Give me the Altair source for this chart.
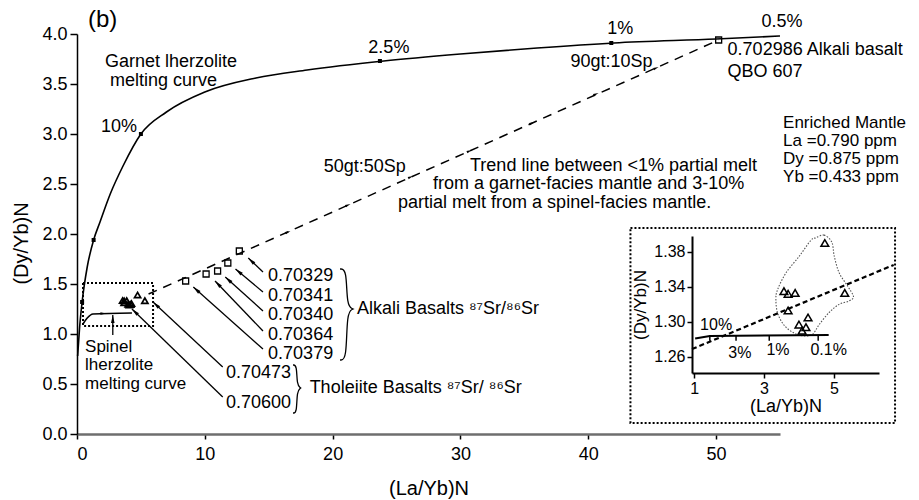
import math
import altair as alt
import pandas as pd

FONT = "Liberation Sans"

# ---------------- main panel: (La/Yb)N vs (Dy/Yb)N ----------------
garnet_x = [0.05, 0.2, 0.4, 0.8, 1.3, 1.8, 2.6, 3.6, 5.0, 7.0, 10.0, 14.0, 18.0, 24.0, 30.0, 36.0, 42.0, 50.0, 55.0]
garnet_y = [0.78, 1.06, 1.32, 1.67, 1.94, 2.12, 2.40, 2.68, 3.00, 3.22, 3.42, 3.56, 3.64, 3.73, 3.80, 3.86, 3.91, 3.95, 3.98]
garnet_mark_x = [0.4, 1.3, 5.0, 23.7, 41.8]
garnet_mark_y = [1.32, 1.94, 3.00, 3.73, 3.91]

trend_x = [5.6, 50.2]
trend_y = [1.40, 3.94]
trend_mark_x = [16.7, 21.4, 26.3, 30.9, 35.8, 40.8, 45.5]
trend_mark_y = [2.03, 2.30, 2.58, 2.84, 3.12, 3.41, 3.67]

spinel_x = [0.47, 0.8, 1.25, 4.3]
spinel_y = [1.10, 1.16, 1.20, 1.21]

alkali_x = [8.5, 10.1, 11.0, 11.8, 12.7]
alkali_y = [1.53, 1.60, 1.63, 1.71, 1.83]
qbo_x = [50.2]
qbo_y = [3.94]

thol_x = [3.57, 3.69, 3.89, 3.69, 4.26, 4.00, 4.20, 4.09, 4.74, 5.31]
thol_y = [1.335, 1.332, 1.333, 1.313, 1.305, 1.297, 1.294, 1.290, 1.390, 1.333]

alkali_sr = ["0.70329", "0.70341", "0.70340", "0.70364", "0.70379"]
alkali_sr_y = [1.58, 1.38, 1.19, 0.99, 0.80]
thol_sr = ["0.70473", "0.70600"]
thol_sr_y = [0.61, 0.31]

# arrows: tail -> head
arrow_tx = [14.55, 14.55, 14.55, 14.55, 14.55, 11.4, 11.4, 2.8]
arrow_ty = [1.62, 1.42, 1.23, 1.03, 0.85, 0.67, 0.37, 0.99]
arrow_hx = [13.4, 12.4, 11.6, 10.8, 9.1, 5.95, 4.3, 2.8]
arrow_hy = [1.76, 1.65, 1.57, 1.53, 1.47, 1.32, 1.25, 1.19]

# ---------------- inset panel ----------------
in_hull_x = [4.49, 4.72, 4.94, 5.01, 5.15, 5.39, 5.56, 5.44, 5.15, 4.87, 4.58, 4.39, 4.15, 3.87, 3.58, 3.39, 3.34, 3.39, 3.63, 4.01, 4.34]
in_hull_y = [1.396, 1.399, 1.391, 1.375, 1.356, 1.341, 1.329, 1.324, 1.320, 1.311, 1.297, 1.286, 1.284, 1.287, 1.296, 1.310, 1.326, 1.337, 1.356, 1.375, 1.393]
in_trend_x = [0.94, 6.71]
in_trend_y = [1.269, 1.365]
in_spinel_x = [1.03, 1.45, 4.85]
in_spinel_y = [1.281, 1.284, 1.285]
in_tick_x = [1.45, 2.2, 3.15, 4.55]
in_melt_text = ["10%", "3%", "1%", "0.1%"]
in_melt_x = [1.63, 2.31, 3.40, 4.85]
in_melt_y = [1.297, 1.265, 1.268, 1.268]

# pixel size of one data unit in the main panel
W, H = 703, 400
SX = W / 55.0
SY = H / 4.0


def heading(tx, ty, hx, hy):
    dx = (hx - tx) * SX
    dy = -(hy - ty) * SY
    return math.degrees(math.atan2(dx, -dy)) % 360


ARROW = "M0,0L0.45,2L-0.45,2Z"

main_x_scale = alt.Scale(domain=[0, 55], nice=False, zero=False)
main_y_scale = alt.Scale(domain=[0, 4], nice=False, zero=False)
main_x_axis = alt.Axis(
    title="(La/Yb)N", values=[0, 10, 20, 30, 40, 50], format="d", grid=False,
    domainColor="#6e6e6e", domainWidth=2.5, tickColor="black", tickSize=5, tickWidth=1.5,
    labelFont=FONT, labelFontSize=18, labelColor="black", labelPadding=6,
    titleFont=FONT, titleFontSize=20, titleFontWeight="normal", titleColor="black", titlePadding=15,
)
main_y_axis = alt.Axis(
    title="(Dy/Yb)N", values=[0, 0.5, 1, 1.5, 2, 2.5, 3, 3.5, 4], format=".1f", grid=False,
    domainColor="black", domainWidth=1.5, tickColor="black", tickSize=7, tickWidth=1.5,
    labelFont=FONT, labelFontSize=18, labelColor="black", labelPadding=3,
    titleFont=FONT, titleFontSize=20, titleFontWeight="normal", titleColor="black", titlePadding=10,
    titleY=209,
)


def MX():
    return alt.X("x:Q", scale=main_x_scale, axis=main_x_axis)


def MY():
    return alt.Y("y:Q", scale=main_y_scale, axis=main_y_axis)


in_x_scale = alt.Scale(domain=[0.94, 6.29], range=[615, 802], nice=False, zero=False)
in_y_scale = alt.Scale(domain=[1.2417, 1.398], range=[339, 202], nice=False, zero=False)
in_x_axis = alt.Axis(
    title="(La/Yb)N", orient="bottom", offset=-61, values=[1, 3, 5], format="d", grid=False,
    domainColor="black", domainWidth=2, tickColor="black", tickSize=5, tickWidth=1.5,
    labelFont=FONT, labelFontSize=16, labelColor="black", labelPadding=2,
    titleFont=FONT, titleFontSize=18, titleFontWeight="normal", titleColor="black", titlePadding=1,
)
in_y_axis = alt.Axis(
    title="(Dy/Yb)N", orient="left", offset=-615, values=[1.26, 1.30, 1.34, 1.38], format=".2f",
    grid=False, domainColor="black", domainWidth=2, tickColor="black", tickSize=5, tickWidth=1.5,
    labelFont=FONT, labelFontSize=16, labelColor="black", labelPadding=2,
    titleFont=FONT, titleFontSize=17, titleFontWeight="normal", titleColor="black", titlePadding=4,
)


def IX():
    return alt.X("x:Q", scale=in_x_scale, axis=in_x_axis)


def IY():
    return alt.Y("y:Q", scale=in_y_scale, axis=in_y_axis)


# ---------- main layers ----------
garnet = alt.Chart(pd.DataFrame({"x": garnet_x, "y": garnet_y})).mark_line(
    color="black", strokeWidth=1.6, interpolate="monotone").encode(x=MX(), y=MY())

garnet_marks = alt.Chart(pd.DataFrame({"x": garnet_mark_x, "y": garnet_mark_y})).mark_point(
    shape="square", size=16, filled=True, color="black", opacity=1).encode(x=MX(), y=MY())

trend = alt.Chart(pd.DataFrame({"x": trend_x, "y": trend_y})).mark_line(
    color="black", strokeWidth=1.5, strokeDash=[9, 7]).encode(x=MX(), y=MY())

trend_ang = heading(trend_x[0], trend_y[0], trend_x[1], trend_y[1])
trend_marks = alt.Chart(pd.DataFrame({
    "x": trend_mark_x, "y": trend_mark_y, "ang": [trend_ang] * len(trend_mark_x)
})).mark_point(shape=ARROW, size=30, filled=True, color="black", opacity=1).encode(
    x=MX(), y=MY(), angle=alt.Angle("ang:Q", scale=None))

spinel = alt.Chart(pd.DataFrame({"x": spinel_x, "y": spinel_y})).mark_line(
    color="black", strokeWidth=1.6, interpolate="monotone").encode(x=MX(), y=MY())

spinel_head = alt.Chart(pd.DataFrame({"x": [2.3], "y": [1.205], "ang": [90]})).mark_point(
    shape=ARROW, size=36, filled=True, color="black", opacity=1).encode(
    x=MX(), y=MY(), angle=alt.Angle("ang:Q", scale=None))

frames = alt.Chart(pd.DataFrame({
    "x": [0.47, 43.3], "x2": [5.95, 64.0], "y": [1.08, 0.11], "y2": [1.51, 2.06]
})).mark_rect(fillOpacity=0, stroke="black", strokeWidth=2, strokeDash=[2, 2]).encode(
    x=MX(), x2="x2:Q", y=MY(), y2="y2:Q")

squares = alt.Chart(pd.DataFrame({"x": alkali_x + qbo_x, "y": alkali_y + qbo_y})).mark_point(
    shape="square", size=36, filled=False, color="black", strokeWidth=1.3, opacity=1).encode(
    x=MX(), y=MY())

triangles = alt.Chart(pd.DataFrame({"x": thol_x, "y": thol_y})).mark_point(
    shape="triangle-up", size=38, filled=False, color="black", strokeWidth=1.7, opacity=1).encode(
    x=MX(), y=MY())

arrows_df = pd.DataFrame({"x": arrow_tx, "y": arrow_ty, "x2": arrow_hx, "y2": arrow_hy})
arrows_df["ang"] = [heading(a, b, c, d) for a, b, c, d in zip(arrow_tx, arrow_ty, arrow_hx, arrow_hy)]
shafts = alt.Chart(arrows_df).mark_rule(color="black", strokeWidth=1.3).encode(
    x=MX(), y=MY(), x2="x2:Q", y2="y2:Q")
heads = alt.Chart(arrows_df).mark_point(
    shape=ARROW, size=64, filled=True, color="black", opacity=1).encode(
    x=alt.X("x2:Q", scale=main_x_scale, axis=main_x_axis),
    y=alt.Y("y2:Q", scale=main_y_scale, axis=main_y_axis),
    angle=alt.Angle("ang:Q", scale=None))


def brace(g, xt, xm, xp, ytop, ymid, ybot):
    pts = [(xt, ytop), (xt, ytop), (xm, ytop), (xm, ymid + 0.03), (xp, ymid), (xp, ymid),
           (xp, ymid), (xm, ymid - 0.03), (xm, ybot), (xt, ybot), (xt, ybot)]
    return pd.DataFrame({"x": [p[0] for p in pts], "y": [p[1] for p in pts],
                         "o": list(range(len(pts))), "g": g})


braces_df = pd.concat([
    brace("alkali", 20.58, 21.1, 21.6, 1.65, 1.25, 0.74),
    brace("thol", 16.9, 17.2, 17.5, 0.69, 0.46, 0.21),
])
braces = alt.Chart(braces_df).mark_line(color="black", strokeWidth=1.3, interpolate="basis").encode(
    x=MX(), y=MY(), detail="g:N", order="o:Q")

left_text = [
    "Garnet lherzolite", "melting curve", "0.702986 Alkali basalt", "QBO 607", "50gt:50Sp",
    "Trend line between <1% partial melt", "from a garnet-facies mantle and 3-10%",
    "partial melt from a spinel-facies mantle.",
    "Alkali Basalts ⁸⁷Sr/⁸⁶Sr", "Tholeiite Basalts  ⁸⁷Sr/ ⁸⁶Sr",
] + alkali_sr + thol_sr
left_x = [2.19, 2.58, 50.9, 50.9, 19.3, 30.75, 27.86, 25.12, 21.9, 18.2] + [14.95] * 5 + [11.66] * 2
left_y = [3.72, 3.53, 3.84, 3.62, 2.67, 2.68, 2.50, 2.31, 1.25, 0.46] + alkali_sr_y + thol_sr_y

notes_left = alt.Chart(pd.DataFrame({"x": left_x, "y": left_y, "t": left_text})).mark_text(
    font=FONT, fontSize=18, align="left", baseline="middle", color="black").encode(
    x=MX(), y=MY(), text="t:N")

# tightly stacked blocks: mantle composition and the spinel curve caption
block_text = ["Enriched Mantle", "La =0.790 ppm", "Dy =0.875 ppm", "Yb =0.433 ppm",
              "Spinel", "lherzolite", "melting curve"]
block_x = [55.24, 55.24, 55.24, 55.24, 0.63, 0.63, 0.63]
block_y = [3.11, 2.93, 2.75, 2.57, 0.87, 0.69, 0.50]
notes_block = alt.Chart(pd.DataFrame({"x": block_x, "y": block_y, "t": block_text})).mark_text(
    font=FONT, fontSize=17, align="left", baseline="middle", color="black").encode(
    x=MX(), y=MY(), text="t:N")

center_text = ["2.5%", "1%", "0.5%", "90gt:10Sp"]
center_x = [24.4, 42.5, 55.16, 41.82]
center_y = [3.86, 4.05, 4.12, 3.72]
notes_center = alt.Chart(pd.DataFrame({"x": center_x, "y": center_y, "t": center_text})).mark_text(
    font=FONT, fontSize=18, align="center", baseline="middle", color="black").encode(
    x=MX(), y=MY(), text="t:N")

notes_right = alt.Chart(pd.DataFrame({"x": [4.7], "y": [3.07], "t": ["10%"]})).mark_text(
    font=FONT, fontSize=18, align="right", baseline="middle", color="black").encode(
    x=MX(), y=MY(), text="t:N")

panel_tag = alt.Chart(pd.DataFrame({"x": [0.86], "y": [4.14], "t": ["(b)"]})).mark_text(
    font=FONT, fontSize=24, align="left", baseline="middle", color="black").encode(
    x=MX(), y=MY(), text="t:N")

main = alt.layer(
    frames, garnet, garnet_marks, trend, trend_marks, spinel, spinel_head,
    squares, triangles, shafts, heads, braces,
    notes_left, notes_block, notes_center, notes_right, panel_tag,
)

# ---------- inset layers ----------
in_hull = alt.Chart(pd.DataFrame({
    "x": in_hull_x, "y": in_hull_y, "o": list(range(len(in_hull_x)))
})).mark_line(color="#555555", strokeWidth=1.1, strokeDash=[1.5, 1.5],
              interpolate="cardinal-closed").encode(x=IX(), y=IY(), order="o:Q")

in_trend = alt.Chart(pd.DataFrame({"x": in_trend_x, "y": in_trend_y})).mark_line(
    color="black", strokeWidth=2.2, strokeDash=[5, 3]).encode(x=IX(), y=IY())

in_spinel = alt.Chart(pd.DataFrame({"x": in_spinel_x, "y": in_spinel_y})).mark_line(
    color="black", strokeWidth=2).encode(x=IX(), y=IY())

in_ticks = alt.Chart(pd.DataFrame({
    "x": in_tick_x, "y": [1.2848] * 4, "y2": [1.2785] * 4
})).mark_rule(color="black", strokeWidth=1.5).encode(x=IX(), y=IY(), y2="y2:Q")

in_tri = alt.Chart(pd.DataFrame({"x": thol_x, "y": thol_y})).mark_point(
    shape="triangle-up", size=60, filled=False, color="black", strokeWidth=1.5, opacity=1).encode(
    x=IX(), y=IY())

in_labels = alt.Chart(pd.DataFrame({"x": in_melt_x, "y": in_melt_y, "t": in_melt_text})).mark_text(
    font=FONT, fontSize=16, align="center", baseline="middle", color="black").encode(
    x=IX(), y=IY(), text="t:N")

inset = alt.layer(in_hull, in_trend, in_spinel, in_ticks, in_tri, in_labels)

chart = alt.layer(main, inset).resolve_scale(x="independent", y="independent").properties(
    width=W, height=H,
    autosize=alt.AutoSizeParams(type="none"),
    padding={"left": 77, "top": 34, "right": 139, "bottom": 66},
    background="white",
).configure_view(stroke=None)

chart.save("out.html", embed_options={"renderer": "svg", "actions": False})
